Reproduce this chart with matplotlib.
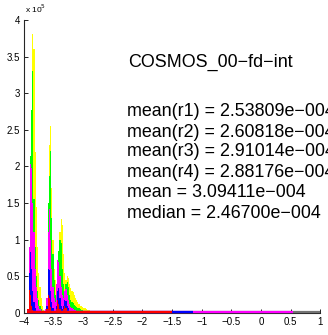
import numpy as np
import matplotlib
matplotlib.use("Agg")
import matplotlib.pyplot as plt

plt.rcParams['font.family'] = ['Liberation Sans', 'DejaVu Sans']

# histogram bins (log10 values)
bin_start = -3.94
bin_width = 0.02

# counts in units of 1e5, per bin
yellow = [0, 0, 0.3, 1.8, 3.81, 3.6, 2.2, 1.45, 0.9, 0.55,
          0.35, 0.2, 0.1, 0.04, 0.02, 0.03, 0.2, 1.0, 2.3, 2.56,
          1.7, 1.0, 0.6, 0.45, 0.3, 0.2, 0.6, 1.1, 1.28, 1.2,
          0.8, 0.55, 0.45, 0.5, 0.48, 0.4, 0.34, 0.3, 0.28, 0.24,
          0.2, 0.17, 0.15, 0.12, 0.1, 0.09, 0.08, 0.07, 0.06, 0.05,
          0.045, 0.04, 0.035, 0.03, 0.027, 0.024, 0.02, 0.017, 0.014, 0.012,
          0.01, 0.008, 0.007, 0.006, 0.005]
green = [0, 0.3, 2.14, 2.77, 3.31, 1.55, 0.9, 0.5, 0.3, 0.18,
         0.1, 0.05, 0.03, 0.02, 0.01, 0.02, 0.1, 1.5, 1.87, 2.21,
         1.3, 0.8, 0.45, 0.25, 0.15, 0.6, 0.85, 1.0, 0.95, 0.6,
         0.4, 0.3, 0.4, 0.42, 0.35, 0.25, 0.18, 0.15, 0.13, 0.11,
         0.09, 0.08, 0.07, 0.06, 0.05, 0.04, 0.035, 0.03, 0.025, 0.02,
         0.018, 0.015, 0.012, 0.01, 0.008, 0.007, 0.006, 0.005, 0.004, 0.003,
         0.003, 0.002, 0.002, 0.001, 0.001]
magenta = [0, 0.9, 2.03, 1.98, 1.5, 1.1, 0.6, 0.35, 0.2, 0.1,
           0.05, 0.03, 0.02, 0.01, 0.01, 0.05, 0.2, 1.1, 1.42, 1.0,
           0.6, 0.35, 0.2, 0.15, 0.4, 0.72, 0.7, 0.5, 0.35, 0.25,
           0.2, 0.3, 0.32, 0.25, 0.18, 0.12, 0.08, 0.06, 0.05, 0.04,
           0.035, 0.03, 0.025, 0.02, 0.015, 0.012, 0.01, 0.008, 0.006, 0.005,
           0.004, 0.003, 0.003, 0.002, 0.002, 0.001, 0.001, 0.001, 0.001, 0.001,
           0, 0, 0, 0, 0]
blue = [0.05, 0.55, 0.83, 0.6, 0.3, 0.15, 0.07, 0.03, 0.02, 0.01,
        0.005, 0, 0, 0, 0, 0.02, 0.1, 0.6, 0.58, 0.3,
        0.15, 0.07, 0.03, 0.02, 0.1, 0.3, 0.34, 0.2, 0.1, 0.05,
        0.1, 0.18, 0.16, 0.1, 0.06, 0.03, 0.02, 0.015, 0.01, 0.008,
        0.006, 0.005, 0.004, 0.003, 0.002, 0.002, 0.001, 0.001, 0, 0,
        0, 0, 0, 0, 0, 0, 0, 0, 0, 0,
        0, 0, 0, 0, 0]
red = [0.05, 0.31, 0.25, 0.1, 0.04, 0.02, 0.01, 0, 0, 0,
       0, 0, 0, 0, 0, 0, 0.05, 0.25, 0.2, 0.08,
       0.03, 0.01, 0, 0, 0.05, 0.17, 0.12, 0.05, 0.02, 0.01,
       0.05, 0.1, 0.07, 0.03, 0.02, 0.01, 0, 0, 0, 0,
       0, 0, 0, 0, 0, 0, 0, 0, 0, 0,
       0, 0, 0, 0, 0, 0, 0, 0, 0, 0,
       0, 0, 0, 0, 0]

series = [yellow, green, magenta, blue, red]
series_colors = [(1, 1, 0), (0, 1, 0), (1, 0, 1), (0, 0, 1), (1, 0, 0)]

# extent of each histogram along x (zero-height bars seen as baseline)
range_colors = [(0.45, 0.45, 0.45), (1, 0, 1), (0, 0, 1), (1, 0, 0)]
range_end = [1.0, 0.55, -1.15, -1.5]

title = "COSMOS_00\u2212fd\u2212int"
stats_lines = ["mean(r1) = 2.53809e\u2212004",
               "mean(r2) = 2.60818e\u2212004",
               "mean(r3) = 2.91014e\u2212004",
               "mean(r4) = 2.88176e\u2212004",
               "mean = 3.09411e\u2212004",
               "median = 2.46700e\u2212004"]

xticks = [-4, -3.5, -3, -2.5, -2, -1.5, -1, -0.5, 0, 0.5, 1]
xticklabels = ["\u22124", "\u22123.5", "\u22123", "\u22122.5", "\u22122", "\u22121.5",
               "\u22121", "\u22120.5", "0", "0.5", "1"]
yticks = [0, 0.5, 1, 1.5, 2, 2.5, 3, 3.5, 4]
yticklabels = ["0", "0.5", "1", "1.5", "2", "2.5", "3", "3.5", "4"]

fig = plt.figure(figsize=(3.28, 3.35), dpi=100)
ax = fig.add_axes([0.073, 0.066, 0.903, 0.874])

n = len(yellow)
centers = bin_start + bin_width * (np.arange(n) + 0.5)
for vals, col in zip(series, series_colors):
    ax.bar(centers, vals, width=bin_width, color=col, linewidth=0, zorder=2)

for col, end in zip(range_colors, range_end):
    ax.hlines(0.008, bin_start, end, colors=[col], linewidth=1.6, zorder=3, clip_on=False)

ax.set_xlim(-4, 1)
ax.set_ylim(0, 4)
ax.set_xticks(xticks)
ax.set_xticklabels(xticklabels)
ax.set_yticks(yticks)
ax.set_yticklabels(yticklabels)
ax.tick_params(direction='in', length=3, width=0.6, labelsize=7, pad=3, colors='black')
for s in ['top', 'right']:
    ax.spines[s].set_visible(False)
for s in ['left', 'bottom']:
    ax.spines[s].set_linewidth(0.8)
    ax.spines[s].set_color('#262626')

fig.text(0.075, 0.955, r"x 10$^5$", fontsize=6, ha='left', va='bottom')

fig.text(128 / 328, 1 - 62 / 335, title, fontsize=12.9, ha='left', va='center')
ys = [112, 132, 152, 172.5, 193, 213]
for yy, line in zip(ys, stats_lines):
    fig.text(127 / 328, 1 - yy / 335, line, fontsize=12.9, ha='left', va='center')

fig.savefig("out.png", dpi=100)
